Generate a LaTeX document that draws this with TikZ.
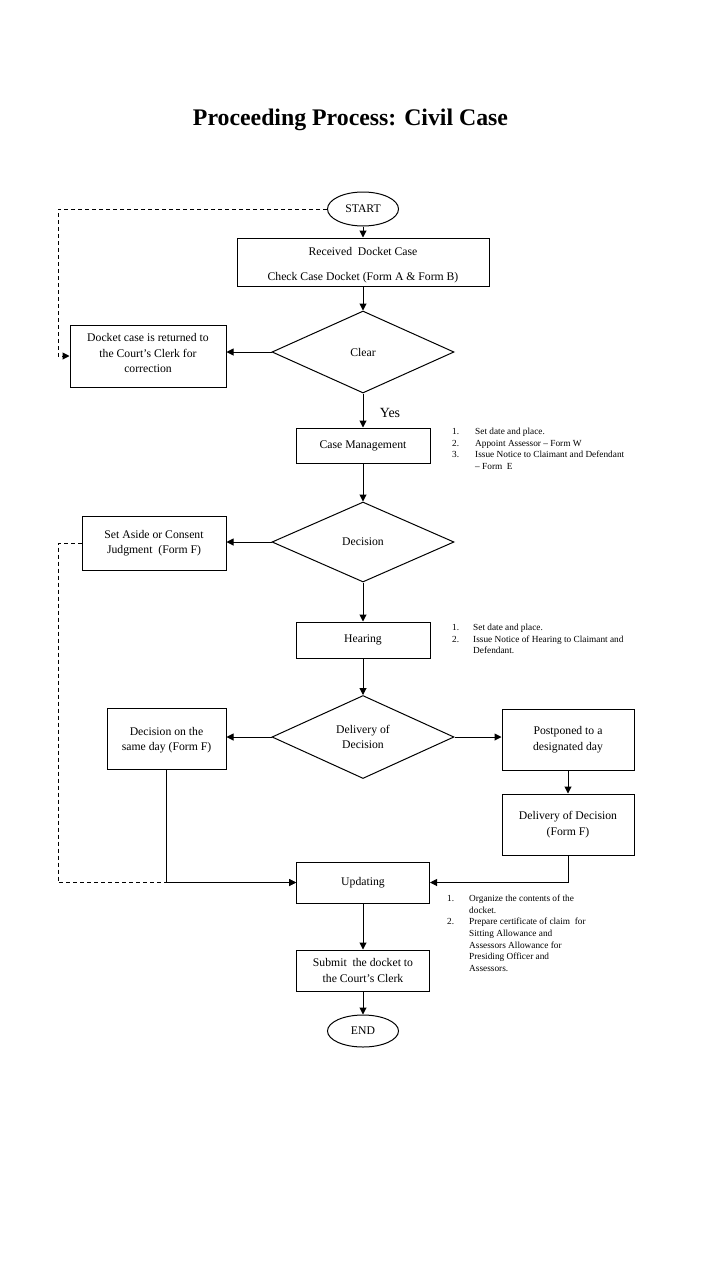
\documentclass[tikz,border=0pt]{standalone}
\usepackage{fontspec}
\setmainfont{Liberation Serif}
\usetikzlibrary{positioning, arrows.meta, shapes.geometric}

\begin{document}
\begin{tikzpicture}[x=1pt, y=-1pt,
  box/.style={draw, line width=1pt, align=center, inner sep=0pt, font=\fontsize{11.7}{15.5}\selectfont},
  decision/.style={draw, diamond, line width=1pt, align=center, inner sep=0pt, minimum width=182pt, minimum height=82pt, font=\fontsize{11.7}{15.5}\selectfont},
  terminal/.style={draw, ellipse, line width=1pt, minimum width=71pt, minimum height=34pt, inner sep=0pt, font=\fontsize{11.7}{14}\selectfont},
  note/.style={anchor=north west, inner sep=0pt, font=\fontsize{9.3}{11.7}\selectfont},
  flow/.style={line width=1pt, -{Triangle[length=7pt, width=7pt]}},
  back/.style={flow, dash pattern=on 4pt off 3pt}]
  \useasboundingbox (0,0) rectangle (720,1280);

  % title
  \node[font=\fontsize{23.8}{28}\selectfont\bfseries] (title) at (350.5,120) {Proceeding Process: Civil Case};

  % main column
  \node[terminal] (start) at (363,209) {START};
  \node[box, minimum width=252pt, minimum height=48pt] (recv) at (363,262) {\rule{0pt}{14.5pt}Received~ Docket Case\\[9.5pt]Check Case Docket (Form A \& Form B)};
  \node[decision] (clear) at (363,352) {Clear};
  \node[box, minimum width=156pt, minimum height=62pt] (ret) at (148,356) {Docket case is returned to\\the Court’s Clerk for\\correction\rule[-6pt]{0pt}{6pt}};
  \node[font=\fontsize{14}{16}\selectfont] (yes) at (390,413) {Yes};
  \node[box, minimum width=134pt, minimum height=35pt] (cm) at (363,445.5) {Case Management};
  \node[note] (cmnote) at (452,426) {\begin{tabular}{@{}p{23pt}@{}l@{}}
    1. & Set date and place.\\
    2. & Appoint Assessor – Form W\\
    3. & Issue Notice to Claimant and Defendant\\
       & – Form~ E
  \end{tabular}};
  \node[decision, minimum height=80pt] (dec) at (363,542) {Decision};
  \node[box, minimum width=144pt, minimum height=54pt] (aside) at (154,543) {Set Aside or Consent\\Judgment~ (Form F)};
  \node[box, minimum width=134pt, minimum height=36pt] (hear) at (363,640) {Hearing};
  \node[note] (hearnote) at (452,622) {\begin{tabular}{@{}p{21pt}@{}l@{}}
    1. & Set date and place.\\
    2. & Issue Notice of Hearing to Claimant and\\
       & Defendant.
  \end{tabular}};

  % delivery of decision
  \node[decision, minimum height=83pt] (deliv) at (363,737) {Delivery of\\Decision};
  \node[box, minimum width=119pt, minimum height=61pt] (same) at (166.5,738.5) {\rule{0pt}{12pt}Decision on the\\same day (Form F)};
  \node[box, minimum width=132pt, minimum height=61pt] (post) at (568,739.5) {Postponed to a\\designated day};
  \node[box, minimum width=132pt, minimum height=61pt] (dodbox) at (568,824.5) {Delivery of Decision\\(Form F)};

  % closing
  \node[box, minimum width=133pt, minimum height=41pt] (upd) at (363,882.5) {Updating};
  \node[note] (updnote) at (447,893) {\begin{tabular}{@{}p{22pt}@{}l@{}}
    1. & Organize the contents of the\\
       & docket.\\
    2. & Prepare certificate of claim~ for\\
       & Sitting Allowance and\\
       & Assessors Allowance for\\
       & Presiding Officer and\\
       & Assessors.
  \end{tabular}};
  \node[box, minimum width=133pt, minimum height=41pt] (submit) at (363,970.5) {Submit~ the docket to\\the Court’s Clerk};
  \node[terminal, minimum height=32pt] (end) at (363,1031) {END};

  % connectors
  \draw[flow] (start) -- (recv);
  \draw[flow] (recv) -- (clear);
  \draw[flow] (clear.west) -- (clear.west -| ret.east);
  \draw[flow] (clear) -- (cm);
  \draw[flow] (cm) -- (dec);
  \draw[flow] (dec.west) -- (dec.west -| aside.east);
  \draw[flow] (dec) -- (hear);
  \draw[flow] (hear) -- (deliv);
  \draw[flow] (deliv.west) -- (deliv.west -| same.east);
  \draw[flow] (deliv.east) -- (deliv.east -| post.west);
  \draw[flow] (post) -- (dodbox);
  \draw[flow] (dodbox.south) |- (upd.east);
  \draw[flow] (same.south) |- (upd.west);
  \draw[flow] (upd) -- (submit);
  \draw[flow] (submit) -- (end);

  % dashed returns
  \coordinate (rail) at (58,0);
  \draw[back] (start.west) -| (rail |- ret.west) -- (ret.west);
  \draw[back] (aside.west) -| (rail |- upd.west) -- (upd.west);
\end{tikzpicture}
\end{document}
